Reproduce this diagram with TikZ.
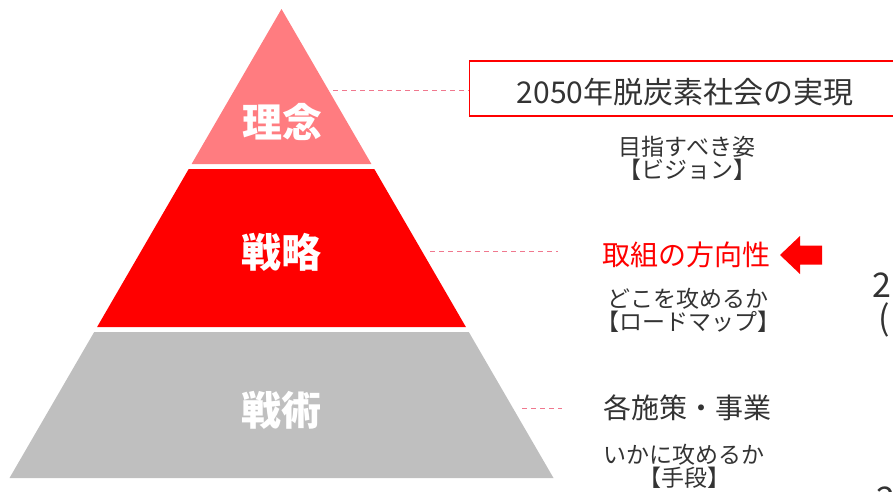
\documentclass[tikz,border=0pt]{standalone}
\usepackage{fontspec}
\setmainfont{Noto Sans CJK JP}
\usetikzlibrary{positioning}

\definecolor{toppink}{HTML}{FF7C80}
\definecolor{midred}{HTML}{FF0000}
\definecolor{lowgray}{HTML}{BFBFBF}
\definecolor{dashpink}{HTML}{F0788E}
\definecolor{txtgray}{HTML}{333333}

\tikzset{
  lvl/.style={text=white,font=\fontsize{40}{44}\selectfont\bfseries,inner sep=0pt},
  head/.style={text=txtgray,font=\fontsize{28}{32}\selectfont,inner sep=0pt},
  sub/.style={text=txtgray,font=\fontsize{23}{26}\selectfont,inner sep=0pt,align=center},
  edge/.style={text=txtgray,font=\fontsize{34}{38}\selectfont,inner sep=0pt,anchor=west},
  link/.style={dashpink,line width=1pt,dash pattern=on 5pt off 4pt}
}

\begin{document}
\begin{tikzpicture}
  [x=1pt,y=-1pt]
  \useasboundingbox (0,0) rectangle (893,491);
  \clip (0,0) rectangle (893,491);

  % pyramid
  \fill[toppink] (281.5,9) -- (371.4,164) -- (191.6,164) -- cycle;
  \fill[midred] (188.7,169) -- (374.3,169) -- (465.9,327) -- (97.1,327) -- cycle;
  \fill[lowgray] (94.2,332) -- (468.8,332) -- (553.5,478) -- (9.5,478) -- cycle;

  \node[lvl] (l1) at (282,122) {理念};
  \node[lvl] (l2) at (281,252) {戦略};
  \node[lvl] (l3) at (281,410) {戦術};

  % right side
  \node[draw=midred,line width=1.3pt,minimum width=460,minimum height=55,anchor=west] (b1) at (469,88.5) {};
  \node[head,font=\fontsize{30}{34}\selectfont] (h1) at (685,92) {2050年脱炭素社会の実現};
  \node[sub] (s1) at (687,158) {目指すべき姿\\[-3pt]【ビジョン】};

  \node[head,text=midred] (h2) at (686,255) {取組の方向性};
  \node[sub] (s2) at (688,310) {どこを攻めるか\\[-3pt]【ロードマップ】};

  \node[head] (h3) at (687,408) {各施策・事業};
  \node[sub] (s3) at (684,466) {いかに攻めるか\\[-3pt]【手段】};

  \fill[midred] (780,255) -- (800,236) -- (800,245.5) -- (822,245.5) -- (822,264.5) -- (800,264.5) -- (800,274) -- cycle;

  % cut off texts
  \node[edge] (r1) at (872,285) {2};
  \node[edge] (r2) at (878,320) {(};
  \node[edge] (r3) at (876,499) {2};

  % dashed links
  \coordinate (c1) at (333,90);
  \coordinate (c2) at (430,251);
  \coordinate (c3) at (522,408);
  \draw[link] (c1) -- (c1 -| b1.west);
  \draw[link] (c2) -- +(128,0);
  \draw[link] (c3) -- +(40,0);
\end{tikzpicture}
\end{document}
